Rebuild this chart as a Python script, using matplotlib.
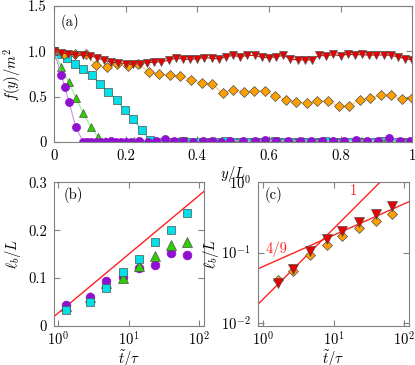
import numpy as np
import matplotlib.pyplot as plt
from matplotlib.ticker import LogLocator, NullLocator

plt.rcParams['font.family'] = 'serif'
plt.rcParams['font.serif'] = ['cmr10']
plt.rcParams['mathtext.fontset'] = 'cm'
plt.rcParams['axes.unicode_minus'] = False
plt.rcParams['axes.formatter.use_mathtext'] = True
plt.rcParams['font.size'] = 10.5

# ---- panel (a): profiles f(y)/m^2 ----
red_x = np.linspace(0, 1, 51)
red_y = [1.00, 0.985, 0.97, 0.96, 0.955, 0.95, 0.93, 0.90, 0.88, 0.875,
         0.865, 0.855, 0.865, 0.875, 0.88, 0.885, 0.90, 0.925, 0.915, 0.91,
         0.92, 0.93, 0.925, 0.915, 0.94, 0.955, 0.94, 0.955, 0.955, 0.935,
         0.93, 0.94, 0.955, 0.915, 0.905, 0.905, 0.905, 0.955, 0.95, 0.965,
         0.95, 0.97, 0.96, 0.965, 0.955, 0.96, 0.96, 0.955, 0.94, 0.92, 0.905]

orange_x = np.linspace(0, 1, 35)
orange_y = [1.00, 0.965, 0.97, 0.975, 0.85, 0.825, 0.858, 0.836, 0.86, 0.775,
            0.75, 0.735, 0.728, 0.689, 0.652, 0.641, 0.537, 0.578, 0.556, 0.559,
            0.563, 0.507, 0.467, 0.444, 0.426, 0.452, 0.452, 0.396, 0.396, 0.467,
            0.489, 0.515, 0.515, 0.474, 0.481]

cyan_x = np.concatenate([[0.0], np.linspace(0.012, 0.988, 43)])
cyan_y = [1.00, 0.975, 0.925, 0.865, 0.80, 0.74, 0.635, 0.555, 0.465, 0.355,
          0.25, 0.135, 0.025, 0.005, 0.0, 0.005, 0.01, 0.0, 0.005, 0.0,
          0.005, 0.01, 0.0, 0.005, 0.0, 0.005, 0.0, 0.01, 0.005, 0.0,
          0.005, 0.0, 0.005, 0.01, 0.0, 0.005, 0.0, 0.005, 0.0, 0.005,
          0.01, 0.005, 0.0, 0.005]

green_x = np.linspace(0, 1, 50)
green_y = [1.00, 0.826, 0.663, 0.483, 0.32, 0.17, 0.06, 0.01, 0.005, 0.005,
           0.005, 0.01, 0.005, 0.005, 0.01, 0.005, 0.005, 0.005, 0.01, 0.005,
           0.005, 0.005, 0.01, 0.005, 0.005, 0.005, 0.01, 0.005, 0.005, 0.005,
           0.01, 0.005, 0.005, 0.005, 0.01, 0.005, 0.005, 0.005, 0.01, 0.005,
           0.005, 0.005, 0.01, 0.005, 0.005, 0.005, 0.01, 0.005, 0.005, 0.005]

purple_x = [0.0, 0.021, 0.030, 0.042, 0.061, 0.081, 0.092, 0.104, 0.117, 0.131,
            0.145, 0.158, 0.172, 0.186, 0.200, 0.214, 0.236, 0.262, 0.284, 0.310,
            0.335, 0.360, 0.388, 0.415, 0.440, 0.465, 0.491, 0.528, 0.561, 0.589,
            0.621, 0.654, 0.686, 0.717, 0.747, 0.779, 0.810, 0.842, 0.873, 0.904,
            0.935, 0.966, 0.994]
purple_y = [1.00, 0.735, 0.605, 0.44, 0.165, 0.005, 0.005, 0.005, 0.005, 0.005,
            0.005, 0.01, 0.005, 0.005, 0.005, 0.005, 0.01, 0.005, 0.01, 0.035,
            0.015, 0.01, 0.005, 0.01, 0.015, 0.005, 0.015, 0.015, 0.01, 0.02,
            0.015, 0.01, 0.015, 0.01, 0.015, 0.01, 0.015, 0.02, 0.015, 0.015,
            0.045, 0.01, 0.015]

# ---- panel (b): l_b/L vs t/tau ----
tb = [1.3, 2.85, 4.8, 8.2, 13.9, 23.5, 40.0, 67.0]
b_cyan = [0.033, 0.051, 0.079, 0.112, 0.139, 0.175, 0.201, 0.236]
b_green = [0.042, 0.060, 0.090, 0.101, 0.125, 0.146, 0.168, 0.175]
b_purple = [0.043, 0.061, 0.093, 0.103, 0.121, 0.127, 0.152, 0.148]
b_fit = (0.027, 0.1227)  # y = a + b log10(t)

# ---- panel (c) ----
tc = [1.6, 2.67, 4.6, 7.9, 13.2, 22.9, 39.5, 68.0]
c_orange = [0.0415, 0.0544, 0.0937, 0.13, 0.174, 0.223, 0.277, 0.356]
c_red = [0.037, 0.059, 0.104, 0.156, 0.205, 0.272, 0.356, 0.463]
c_fit1 = (0.0221, 1.0)
c_fit49 = (0.0638, 4 / 9)

RED, ORANGE, CYAN, GREEN, PURPLE = '#e60000', '#ffa000', '#00e0e8', '#30d000', '#9010d0'
EDGE = '#505050'
SPINE = '#808080'


def style(ax, xpad=5):
    for s in ax.spines.values():
        s.set_color(SPINE)
    ax.tick_params(direction='in', top=True, right=True, length=4,
                   color=SPINE, labelcolor='black', pad=5)
    ax.tick_params(axis='x', pad=xpad)


fig = plt.figure(figsize=(4.15, 3.65), dpi=100)

ax = fig.add_axes([0.130, 0.611, 0.8635, 0.3726])
ax.plot(cyan_x, cyan_y, '-', color=CYAN, lw=0.8, marker='s', ms=5.2,
        mfc=CYAN, mec=EDGE, mew=0.5)
ax.plot(green_x, green_y, '-', color='#90f090', lw=0.8, marker='^', ms=5.5,
        mfc=GREEN, mec=EDGE, mew=0.5)
ax.plot(purple_x, purple_y, '-', color='#c890f0', lw=0.8, marker='o', ms=5.8,
        mfc=PURPLE, mec=PURPLE, mew=0.5)
ax.plot(orange_x, orange_y, '-', color='#ffc870', lw=0.8, marker='D', ms=4.6,
        mfc=ORANGE, mec=EDGE, mew=0.5)
ax.plot(red_x, red_y, '-', color=RED, lw=0.8, marker='v', ms=6.2,
        mfc=RED, mec=EDGE, mew=0.5)
ax.set_xlim(0, 1)
ax.set_ylim(0, 1.5)
ax.set_xticks([0, 0.2, 0.4, 0.6, 0.8, 1])
ax.set_xticklabels(['0', '0.2', '0.4', '0.6', '0.8', '1'])
ax.set_yticks([0, 0.5, 1.0, 1.5])
ax.set_yticklabels(['0', '0.5', '1.0', '1.5'])
ax.set_xlabel(r'$y/L$', labelpad=1)
ax.set_ylabel(r'$f(y)/m^2$', labelpad=4)
ax.text(0.02, 0.885, '(a)', transform=ax.transAxes, va='center', ha='left')
style(ax)

# panel (b)
axb = fig.add_axes([0.130, 0.107, 0.3614, 0.3937])
axb.set_xscale('log')
tl = np.array([0.87, 117.0])
axb.plot(tl, b_fit[0] + b_fit[1] * np.log10(tl), color='#ff2020', lw=1.0)
axb.plot(tb[:3], b_green[:3], '^', ms=6.5, mfc=GREEN, mec=EDGE, mew=0.5)
axb.plot(tb, b_purple, 'o', ms=6.3, mfc=PURPLE, mec=PURPLE, mew=0.5)
axb.plot(tb[3:], b_green[3:], '^', ms=6.5, mfc=GREEN, mec=EDGE, mew=0.5)
axb.plot(tb, b_cyan, 's', ms=6.0, mfc=CYAN, mec=EDGE, mew=0.5)
axb.set_xlim(0.87, 117)
axb.set_ylim(0, 0.3)
axb.set_yticks([0, 0.1, 0.2, 0.3])
axb.set_yticklabels(['0', '0.1', '0.2', '0.3'])
axb.xaxis.set_major_locator(LogLocator(base=10, numticks=5))
axb.xaxis.set_minor_locator(NullLocator())
axb.set_xlabel(r'$\tilde{t}/\tau$', labelpad=0)
axb.set_ylabel(r'$\ell_b/L$', labelpad=4)
axb.text(0.062, 0.91, '(b)', transform=axb.transAxes, va='center', ha='left')
style(axb, xpad=3.5)

# panel (c)
axc = fig.add_axes([0.621, 0.107, 0.3646, 0.3937])
axc.set_xscale('log')
axc.set_yscale('log')
tl = np.array([0.83, 117.0])
axc.plot(tl, c_fit1[0] * tl ** c_fit1[1], color='#ff2020', lw=1.0)
axc.plot(tl, c_fit49[0] * tl ** c_fit49[1], color='#ff2020', lw=1.0)
axc.plot(tc, c_orange, 'D', ms=5.0, mfc=ORANGE, mec=EDGE, mew=0.5)
axc.plot(tc, c_red, 'v', ms=6.8, mfc=RED, mec=EDGE, mew=0.5)
axc.set_xlim(0.83, 117)
axc.set_ylim(0.0091, 1.0)
axc.xaxis.set_major_locator(LogLocator(base=10, numticks=5))
axc.yaxis.set_major_locator(LogLocator(base=10, numticks=5))
axc.xaxis.set_minor_locator(NullLocator())
axc.yaxis.set_minor_locator(NullLocator())
axc.set_xlabel(r'$\tilde{t}/\tau$', labelpad=0)
axc.set_ylabel(r'$\ell_b/L$', labelpad=0)
axc.text(18.9, 0.74, '1', color='#ff2020', ha='center', va='center')
axc.text(1.55, 0.11, '4/9', color='#ff2020', ha='center', va='center')
axc.text(0.048, 0.91, '(c)', transform=axc.transAxes, va='center', ha='left')
style(axc, xpad=3.5)

fig.savefig('out.png', dpi=100)
